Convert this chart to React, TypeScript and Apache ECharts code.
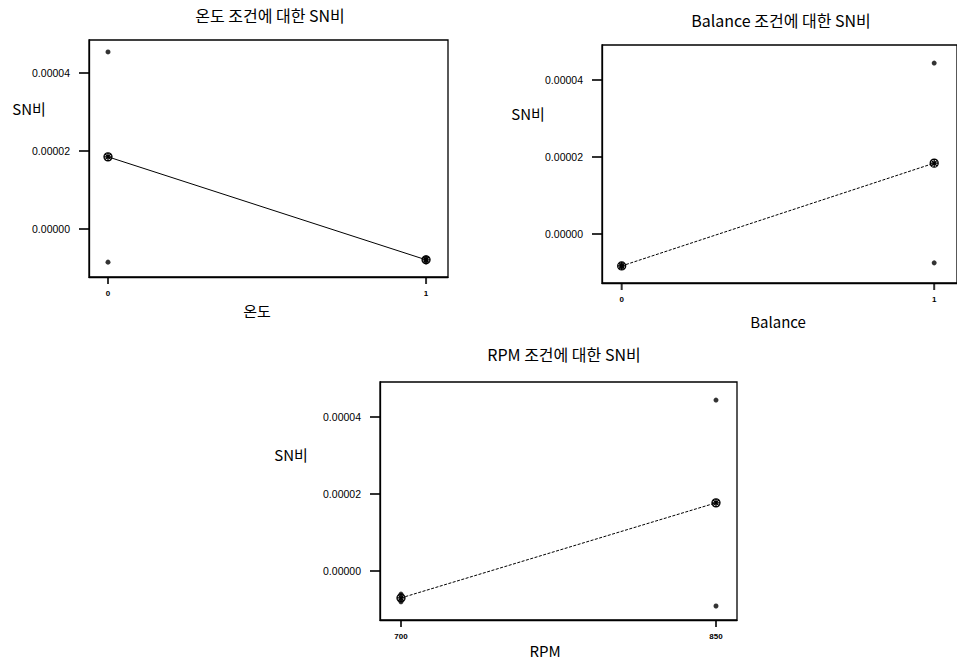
import React, { useEffect, useRef } from "react";
import * as echarts from "echarts";

// ---- data ----
const tempLevels = [0, 1];
const tempMeans = [1.85e-5, -0.79e-5];
const tempPoints0 = [4.54e-5, -0.85e-5];
const tempPoints1 = [-0.74e-5, -0.84e-5];

const balLevels = [0, 1];
const balMeans = [-0.83e-5, 1.84e-5];
const balPoints0 = [-0.8e-5, -0.86e-5];
const balPoints1 = [4.44e-5, -0.75e-5];

const rpmLevels = [700, 850];
const rpmMeans = [-0.7e-5, 1.77e-5];
const rpmPoints0 = [-0.6e-5, -0.8e-5];
const rpmPoints1 = [4.44e-5, -0.91e-5];

const yTicks = [0, 2e-5, 4e-5];

const titles = ["온도 조건에 대한 SN비", "Balance 조건에 대한 SN비", "RPM 조건에 대한 SN비"];
const xNames = ["온도", "Balance", "RPM"];
const yName = "SN비";

const MEAN_SYMBOL =
  "path://M0,5 A5,5 0 1,1 10,5 A5,5 0 1,1 0,5 Z M1.5,1.5 L8.5,8.5 M8.5,1.5 L1.5,8.5 M5,0 L5,10 M0,5 L10,5";

const KR = "'Noto Sans CJK KR', 'Noto Sans', sans-serif";
const NUM = "'Liberation Sans', Arial, sans-serif";

function App() {
  const ref = useRef<HTMLDivElement>(null);

  useEffect(() => {
    if (!ref.current) return;
    const chart = echarts.init(ref.current, undefined, { renderer: "svg" });

    const grids = [
      { left: 89, top: 40, width: 359, height: 237 },
      { left: 602, top: 45, width: 360, height: 238 },
      { left: 380, top: 382, width: 357, height: 238 },
    ];
    const xRanges = [
      [-0.0597, 1.069],
      [-0.063, 1.073],
      [690, 860],
    ];
    const yRanges = [
      [-1.231e-5, 4.846e-5],
      [-1.273e-5, 4.909e-5],
      [-1.273e-5, 4.909e-5],
    ];
    const levels = [tempLevels, balLevels, rpmLevels];
    const means = [tempMeans, balMeans, rpmMeans];
    const pts = [
      [tempPoints0, tempPoints1],
      [balPoints0, balPoints1],
      [rpmPoints0, rpmPoints1],
    ];

    const series: any[] = [];
    for (let i = 0; i < 3; i++) {
      // outward tick marks, positioned through the axes' scales
      series.push({
        type: "scatter",
        xAxisIndex: i,
        yAxisIndex: i,
        data: yTicks.map((v) => [xRanges[i][0], v]),
        symbol: "rect",
        symbolSize: [10, 2],
        symbolOffset: [-5, 0],
        itemStyle: { color: "#000" },
        clip: false,
        silent: true,
        z: 10,
      });
      series.push({
        type: "scatter",
        xAxisIndex: i,
        yAxisIndex: i,
        data: levels[i].map((lv) => [lv, yRanges[i][0]]),
        symbol: "rect",
        symbolSize: [2, 7],
        symbolOffset: [0, 3.5],
        itemStyle: { color: "#000" },
        clip: false,
        silent: true,
        z: 10,
      });

      const scatterData: number[][] = [];
      levels[i].forEach((lv, j) => {
        pts[i][j].forEach((v) => scatterData.push([lv, v]));
      });
      series.push({
        type: "scatter",
        xAxisIndex: i,
        yAxisIndex: i,
        data: scatterData,
        symbol: "circle",
        symbolSize: 5,
        itemStyle: { color: "#000" },
        silent: true,
      });
      series.push({
        type: "line",
        xAxisIndex: i,
        yAxisIndex: i,
        data: levels[i].map((lv, j) => [lv, means[i][j]]),
        symbol: MEAN_SYMBOL,
        symbolSize: 8,
        showSymbol: true,
        itemStyle: { color: "rgba(255,255,255,0)", borderColor: "#000", borderWidth: 1.3 },
        lineStyle: {
          color: "#000",
          width: 1,
          type: i === 0 ? "solid" : [3, 1.5],
        },
        silent: true,
      });
    }

    const textEl = (text: string, x: number, y: number, size: number, family = KR) => ({
      type: "text",
      x,
      y,
      style: {
        text,
        fill: "#000",
        fontSize: size,
        fontFamily: family,
        align: "center",
        verticalAlign: "middle",
        textAlign: "center",
        textVerticalAlign: "middle",
      },
    });

    chart.setOption({
      animation: false,
      backgroundColor: "#fff",
      grid: grids.map((g) => ({
        ...g,
        show: true,
        borderColor: "#000",
        borderWidth: 1.3,
        backgroundColor: "transparent",
        containLabel: false,
      })),
      xAxis: [0, 1, 2].map((i) => ({
        type: "value",
        gridIndex: i,
        min: xRanges[i][0],
        max: xRanges[i][1],
        splitLine: { show: false },
        axisLine: { show: true, onZero: false, lineStyle: { color: "#000", width: 1.3 } },
        axisTick: { show: false },
        axisLabel: {
          customValues: levels[i],
          margin: 12,
          fontSize: 8,
          fontWeight: "bold",
          fontFamily: NUM,
          color: "#000",
          formatter: (v: number) => String(Math.round(v)),
        },
      })),
      yAxis: [0, 1, 2].map((i) => ({
        type: "value",
        gridIndex: i,
        min: yRanges[i][0],
        max: yRanges[i][1],
        splitLine: { show: false },
        axisLine: { show: true, onZero: false, lineStyle: { color: "#000", width: 1.3 } },
        axisTick: { show: false },
        axisLabel: {
          customValues: yTicks,
          margin: 19,
          fontSize: 10.5,
          fontFamily: NUM,
          color: "#000",
          formatter: (v: number) => Math.abs(v).toFixed(5),
        },
      })),
      series,
      graphic: [
        textEl(titles[0], 270, 15, 16),
        textEl(titles[1], 781, 20, 16),
        textEl(titles[2], 564, 354, 16),
        textEl(yName, 29, 108, 15),
        textEl(yName, 528, 113, 15),
        textEl(yName, 291, 454, 15),
        textEl(xNames[0], 257, 310, 15),
        textEl(xNames[1], 778, 321, 15),
        textEl(xNames[2], 545, 650, 15),
      ],
    });

    return () => chart.dispose();
  }, []);

  return (
    <div
      ref={ref}
      style={{ position: "fixed", left: 0, top: 0, width: 957, height: 662, background: "#fff" }}
    />
  );
}

export default App;
